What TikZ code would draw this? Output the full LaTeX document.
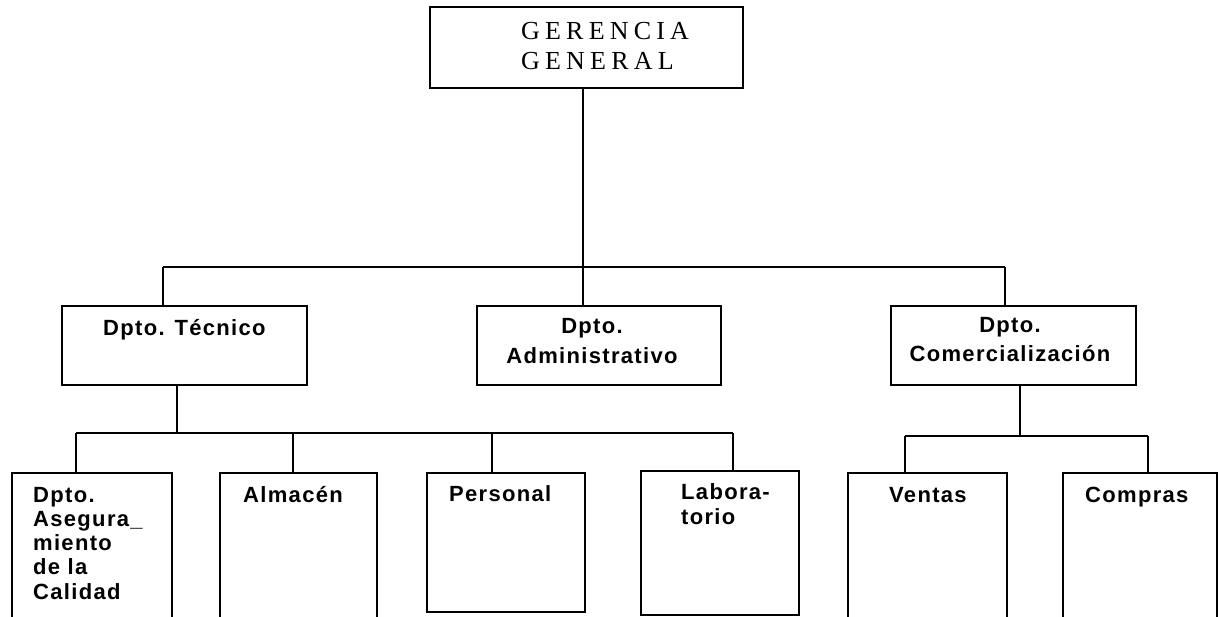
\documentclass[tikz,border=0pt]{standalone}
\usepackage{fontspec}
\setmainfont{Liberation Serif}
\newfontfamily\ggfont[LetterSpace=20]{Liberation Serif}
\newfontfamily\lblfont[LetterSpace=6]{Liberation Sans}
\begin{document}
\begin{tikzpicture}[x=1pt,y=-1pt,
  box/.style={draw, line width=2.8pt, inner sep=0pt, outer sep=0pt, anchor=north west},
  link/.style={line width=2.2pt},
  toptext/.style={inner sep=0pt, font=\ggfont\fontsize{26}{30}\selectfont, align=left, anchor=base west},
  deptext/.style={inner sep=0pt, font=\lblfont\bfseries\fontsize{22}{29}\selectfont, align=center, anchor=base},
  unittext/.style={inner sep=0pt, font=\lblfont\bfseries\fontsize{22}{24.2}\selectfont, align=left, anchor=base west}]
\useasboundingbox (0,0) rectangle (1218,617);
\clip (0,0) rectangle (1218,617);

% boxes
\node[box, minimum width=313, minimum height=81] (gg)  at (430,7)   {};
\node[box, minimum width=245, minimum height=79] (tec) at (62,306)  {};
\node[box, minimum width=244, minimum height=79] (adm) at (477,306) {};
\node[box, minimum width=245, minimum height=79] (com) at (891,306) {};
\node[box, minimum width=160, minimum height=160] (cal) at (12,473)  {};
\node[box, minimum width=157, minimum height=160] (alm) at (220,473) {};
\node[box, minimum width=158, minimum height=139] (per) at (427,473) {};
\node[box, minimum width=158, minimum height=144] (lab) at (641,471) {};
\node[box, minimum width=159, minimum height=160] (ven) at (848,473) {};
\node[box, minimum width=154, minimum height=160] (cmp) at (1063,473) {};

% texts (multi-line texts are placed by the baseline of their last line)
\node[toptext] (gg-t) at (521,70) {GERENCIA\\GENERAL};
\node[deptext, anchor=base west, align=left] (tec-t) at (103,336) {Dpto. Técnico};
\node[deptext] (adm-t) at (592,363) {Dpto.\\Administrativo};
\node[deptext] (com-t) at (1010,362) {Dpto.\\Comercialización};
\node[unittext] (cal-t) at (33,599)  {Dpto.\\Asegura\_\\miento\\de la\\Calidad};
\node[unittext] (alm-t) at (243,502) {Almacén};
\node[unittext] (per-t) at (449,501) {Personal};
\node[unittext] (lab-t) at (681,524) {Labora-\\torio};
\node[unittext] (ven-t) at (889,502) {Ventas};
\node[unittext] (cmp-t) at (1085,502) {Compras};

% junctions of the connector buses
\coordinate (b1)  at (583,267);
\coordinate (b1l) at (163,267);
\coordinate (b1r) at (1005,267);
\coordinate (b2)  at (177,433);
\coordinate (b2a) at (76,433);
\coordinate (b2b) at (293,433);
\coordinate (b2c) at (492,433);
\coordinate (b2d) at (733,433);
\coordinate (b3)  at (1020,436);
\coordinate (b3a) at (905,436);
\coordinate (b3b) at (1148,436);

% general management to departments
\draw[link] (gg.south -| b1) -- (b1 |- adm.north);
\draw[link] (b1l) -- (b1r);
\draw[link] (b1l) -- (b1l |- tec.north);
\draw[link] (b1r) -- (b1r |- com.north);

% technical department to its units
\draw[link] (tec.south -| b2) -- (b2);
\draw[link] (b2a) -- (b2d);
\draw[link] (b2a) -- (b2a |- cal.north);
\draw[link] (b2b) -- (b2b |- alm.north);
\draw[link] (b2c) -- (b2c |- per.north);
\draw[link] (b2d) -- (b2d |- lab.north);

% commercial department to its units
\draw[link] (com.south -| b3) -- (b3);
\draw[link] (b3a) -- (b3b);
\draw[link] (b3a) -- (b3a |- ven.north);
\draw[link] (b3b) -- (b3b |- cmp.north);
\end{tikzpicture}
\end{document}
